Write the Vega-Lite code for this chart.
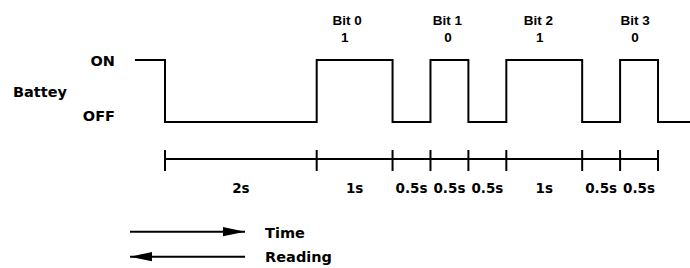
{
  "$schema": "https://vega.github.io/schema/vega-lite/v6.json",
  "width": 690,
  "height": 268,
  "autosize": "none",
  "padding": 0,
  "background": "white",
  "config": {"view": {"stroke": null}},
  "datasets": {
    "signal": [
      {"t": -0.396, "v": 1},
      {"t": 0, "v": 0},
      {"t": 2, "v": 1},
      {"t": 3, "v": 0},
      {"t": 3.5, "v": 1},
      {"t": 4, "v": 0},
      {"t": 4.5, "v": 1},
      {"t": 5.5, "v": 0},
      {"t": 6, "v": 1},
      {"t": 6.5, "v": 0},
      {"t": 6.93, "v": 0}
    ],
    "ticks": [
      {"t": 0}, {"t": 2}, {"t": 3}, {"t": 3.5}, {"t": 4}, {"t": 4.5}, {"t": 5.5}, {"t": 6}, {"t": 6.5}
    ],
    "durations": [
      {"t": 1, "label": "2s"},
      {"t": 2.5, "label": "1s"},
      {"t": 3.25, "label": "0.5s"},
      {"t": 3.75, "label": "0.5s"},
      {"t": 4.25, "label": "0.5s"},
      {"t": 5, "label": "1s"},
      {"t": 5.75, "label": "0.5s"},
      {"t": 6.25, "label": "0.5s"}
    ],
    "bits": [
      {"t": 2.4, "v": 1.565, "label": "Bit 0"},
      {"t": 2.37, "v": 1.29, "label": "1"},
      {"t": 3.724, "v": 1.565, "label": "Bit 1"},
      {"t": 3.731, "v": 1.29, "label": "0"},
      {"t": 4.924, "v": 1.565, "label": "Bit 2"},
      {"t": 4.94, "v": 1.29, "label": "1"},
      {"t": 6.197, "v": 1.565, "label": "Bit 3"},
      {"t": 6.197, "v": 1.29, "label": "0"}
    ],
    "levels": [
      {"t": -0.659, "v": 0.903, "label": "ON"},
      {"t": -0.659, "v": 0.016, "label": "OFF"}
    ],
    "leftLabels": [
      {"t": -2.004, "v": 0.403, "label": "Battey"},
      {"t": 1.32, "v": -1.871, "label": "Time"},
      {"t": 1.32, "v": -2.258, "label": "Reading"}
    ],
    "arrows": [
      {"from": -0.4614, "to": 1.055, "v": -1.769, "dir": "right"},
      {"from": 1.055, "to": -0.4614, "v": -2.173, "dir": "left"}
    ]
  },
  "layer": [
    {
      "data": {"name": "signal"},
      "mark": {"type": "line", "interpolate": "step-after", "color": "#000", "strokeWidth": 2},
      "encoding": {
        "x": {"field": "t", "type": "quantitative", "scale": {"domain": [-2.1753, 6.9216], "nice": false, "zero": false}, "axis": null},
        "y": {"field": "v", "type": "quantitative", "scale": {"domain": [-2.355, 1.968], "nice": false, "zero": false}, "axis": null}
      }
    },
    {
      "data": {"values": [{"start": 0, "end": 6.5, "v": -0.597}]},
      "mark": {"type": "rule", "color": "#000", "strokeWidth": 2},
      "encoding": {
        "x": {"field": "start", "type": "quantitative"},
        "x2": {"field": "end"},
        "y": {"field": "v", "type": "quantitative"}
      }
    },
    {
      "data": {"name": "ticks"},
      "mark": {"type": "rule", "color": "#000", "strokeWidth": 2},
      "encoding": {
        "x": {"field": "t", "type": "quantitative"},
        "y": {"datum": -0.452, "type": "quantitative"},
        "y2": {"datum": -0.79}
      }
    },
    {
      "data": {"name": "durations"},
      "mark": {"type": "text", "font": "DejaVu Sans", "fontWeight": "bold", "fontSize": 13.5, "align": "center", "baseline": "alphabetic", "color": "#000"},
      "encoding": {
        "x": {"field": "t", "type": "quantitative"},
        "y": {"datum": -1.145, "type": "quantitative"},
        "text": {"field": "label"}
      }
    },
    {
      "data": {"name": "bits"},
      "mark": {"type": "text", "font": "Liberation Sans", "fontWeight": "bold", "fontSize": 13.5, "align": "center", "baseline": "alphabetic", "color": "#000"},
      "encoding": {
        "x": {"field": "t", "type": "quantitative"},
        "y": {"field": "v", "type": "quantitative"},
        "text": {"field": "label"}
      }
    },
    {
      "data": {"name": "levels"},
      "mark": {"type": "text", "font": "DejaVu Sans", "fontWeight": "bold", "fontSize": 14.5, "align": "right", "baseline": "alphabetic", "color": "#000"},
      "encoding": {
        "x": {"field": "t", "type": "quantitative"},
        "y": {"field": "v", "type": "quantitative"},
        "text": {"field": "label"}
      }
    },
    {
      "data": {"name": "leftLabels"},
      "mark": {"type": "text", "font": "DejaVu Sans", "fontWeight": "bold", "fontSize": 14.5, "align": "left", "baseline": "alphabetic", "color": "#000"},
      "encoding": {
        "x": {"field": "t", "type": "quantitative"},
        "y": {"field": "v", "type": "quantitative"},
        "text": {"field": "label"}
      }
    },
    {
      "data": {"name": "arrows"},
      "mark": {"type": "rule", "color": "#000", "strokeWidth": 2},
      "encoding": {
        "x": {"field": "from", "type": "quantitative"},
        "x2": {"field": "to"},
        "y": {"field": "v", "type": "quantitative"}
      }
    },
    {
      "data": {"name": "arrows"},
      "mark": {"type": "point", "filled": true, "color": "#000", "opacity": 1, "size": 484, "strokeWidth": 0},
      "encoding": {
        "x": {"field": "to", "type": "quantitative"},
        "y": {"field": "v", "type": "quantitative"},
        "shape": {"field": "dir", "type": "nominal", "scale": {"domain": ["right", "left"], "range": ["M0,0L-2,-0.42L-2,0.42Z", "M0,0L2,-0.42L2,0.42Z"]}, "legend": null}
      }
    }
  ]
}
